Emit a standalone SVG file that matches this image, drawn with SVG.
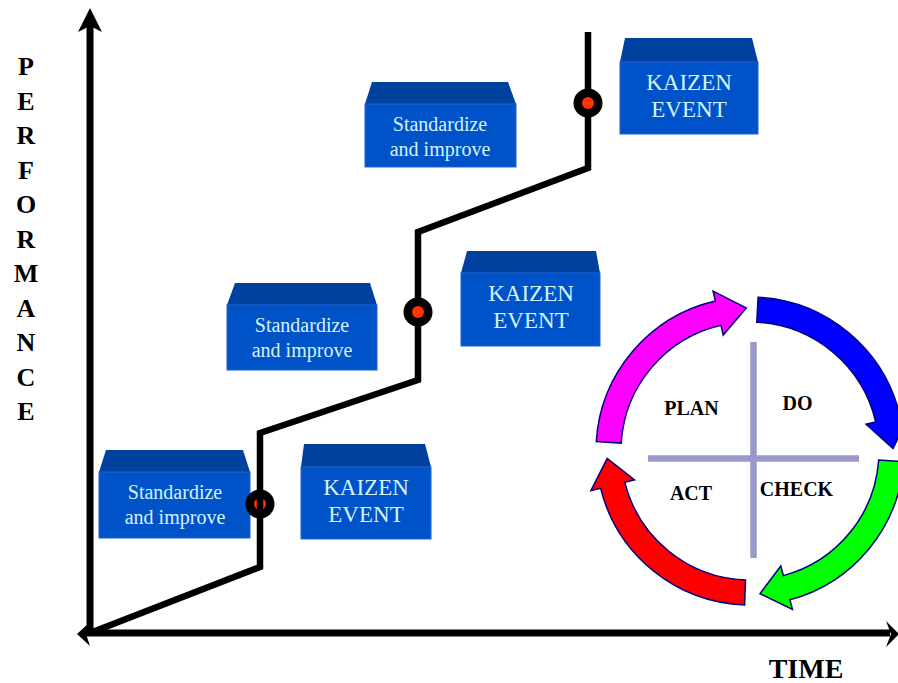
<svg xmlns="http://www.w3.org/2000/svg" width="898" height="683" viewBox="0 0 898 683">
  <style>
    .axis { stroke: #000; stroke-width: 7; fill: none; }
    .step { stroke: #000; stroke-width: 6.5; fill: none; stroke-linejoin: miter; stroke-linecap: butt; }
    .boxtop { fill: #0041a0; }
    .boxfront { fill: #0052c8; stroke: #1f62d0; stroke-width: 1; }
    .std { font-family: "Liberation Serif", "Times New Roman", serif; font-size: 20px; fill: #d4f2ff; text-anchor: middle; }
    .kai { font-family: "Liberation Serif", "Times New Roman", serif; font-size: 23px; fill: #d4f2ff; text-anchor: middle; }
    .lbl { font-family: "Liberation Serif", "Times New Roman", serif; font-weight: bold; fill: #000; text-anchor: middle; }
    .ring { stroke: #000080; stroke-width: 1.5; stroke-linejoin: miter; }
    .cross { stroke: #9999cc; stroke-width: 6.5; }
    .dot-outer { fill: #000; }
    .dot-inner { fill: #ff3300; }
  </style>

  <!-- axis titles -->
  <g id="performance-label" class="lbl" font-size="26">
    <text x="26" y="75">P</text>
    <text x="26" y="109.5">E</text>
    <text x="26" y="144">R</text>
    <text x="26" y="178.5">F</text>
    <text x="26" y="213">O</text>
    <text x="26" y="247.5">R</text>
    <text x="26" y="282">M</text>
    <text x="26" y="316.5">A</text>
    <text x="26" y="351">N</text>
    <text x="26" y="385.5">C</text>
    <text x="26" y="420">E</text>
  </g>
  <g id="time-label">
    <text class="lbl" x="806" y="678" font-size="28">TIME</text>
  </g>

  <!-- axes -->
  <g id="axes">
    <line class="axis" x1="90" y1="633" x2="90" y2="24"/>
    <polygon points="90,8 102,32 90,26 78,32" fill="#000"/>
    <line class="axis" x1="86" y1="633" x2="890" y2="633"/>
    <polygon points="899,634 886,621 891,634 886,647" fill="#000"/>
    <polygon points="77,634 90,622 86,634 90,646" fill="#000"/>
  </g>

  <!-- boxes: Standardize and improve -->
  <g id="std1">
    <polygon class="boxtop" points="106,450 243,450 250,472 99,472"/>
    <rect class="boxfront" x="99" y="472" width="151" height="66"/>
    <text class="std" x="175" y="499">Standardize</text>
    <text class="std" x="175" y="524">and improve</text>
  </g>
  <g id="std2">
    <polygon class="boxtop" points="235,283 370,283 377,305 227,305"/>
    <rect class="boxfront" x="227" y="305" width="150" height="65"/>
    <text class="std" x="302" y="332">Standardize</text>
    <text class="std" x="302" y="357">and improve</text>
  </g>
  <g id="std3">
    <polygon class="boxtop" points="372,82 508,82 516,104 365,104"/>
    <rect class="boxfront" x="365" y="104" width="151" height="63"/>
    <text class="std" x="440" y="131">Standardize</text>
    <text class="std" x="440" y="156">and improve</text>
  </g>

  <!-- boxes: KAIZEN EVENT -->
  <g id="kaizen1">
    <polygon class="boxtop" points="304,444 425,444 431,467 301,467"/>
    <rect class="boxfront" x="301" y="467" width="130" height="72"/>
    <text class="kai" x="366" y="495">KAIZEN</text>
    <text class="kai" x="366" y="522">EVENT</text>
  </g>
  <g id="kaizen2">
    <polygon class="boxtop" points="467,251 596,251 600,273 461,273"/>
    <rect class="boxfront" x="461" y="273" width="139" height="73"/>
    <text class="kai" x="531" y="301">KAIZEN</text>
    <text class="kai" x="531" y="328">EVENT</text>
  </g>
  <g id="kaizen3">
    <polygon class="boxtop" points="625,38 752,38 758,62 620,62"/>
    <rect class="boxfront" x="620" y="62" width="138" height="72"/>
    <text class="kai" x="689" y="90">KAIZEN</text>
    <text class="kai" x="689" y="117">EVENT</text>
  </g>

  <!-- improvement staircase with event markers -->
  <g id="connectors">
    <g id="marker1">
      <circle class="dot-outer" cx="260" cy="504" r="14.5"/>
      <circle class="dot-inner" cx="260" cy="504" r="6"/>
    </g>
    <polyline class="step" points="90,633 260,567 260,433 418,380 418,232 588,168 588,32"/>
    <g id="marker2">
      <circle class="dot-outer" cx="418" cy="312" r="14.5"/>
      <circle class="dot-inner" cx="418" cy="312" r="6"/>
    </g>
    <g id="marker3">
      <circle class="dot-outer" cx="588" cy="103" r="14.5"/>
      <circle class="dot-inner" cx="588" cy="103" r="6"/>
    </g>
  </g>

  <!-- PDCA cycle -->
  <g id="pdca">
    <g id="pdca-cross">
      <line class="cross" x1="753.5" y1="342" x2="753.5" y2="558"/>
      <line class="cross" x1="648" y1="458.5" x2="859" y2="458.5"/>
    </g>
    <path id="arrow-do" class="ring" fill="#0000ff"
          d="M758.1,297.2 A154,154 0 0 1 900.1,416.4 L909.8,414.1 L893.0,448.5 L866.0,424.2 L875.7,422.0 A129,129 0 0 0 756.8,322.2 Z"/>
    <path id="arrow-check" class="ring" fill="#00ff00"
          d="M903.6,461.7 A154,154 0 0 1 789.9,599.8 L792.4,609.4 L760.0,593.7 L780.8,566.0 L783.4,575.6 A129,129 0 0 0 878.7,460.0 Z"/>
    <path id="arrow-act" class="ring" fill="#ff0000"
          d="M744.6,604.9 A154,154 0 0 1 600.6,488.3 L590.9,490.7 L607.2,458.5 L634.5,479.8 L624.8,482.2 A129,129 0 0 0 745.5,579.9 Z"/>
    <path id="arrow-plan" class="ring" fill="#ff00ff"
          d="M596.3,441.6 A154,154 0 0 1 715.4,301.0 L713.1,291.2 L746.3,308.0 L723.2,335.1 L721.0,325.3 A129,129 0 0 0 621.2,443.1 Z"/>
    <g id="pdca-labels" class="lbl" font-size="20">
      <text x="691.5" y="415">PLAN</text>
      <text x="797.5" y="410">DO</text>
      <text x="691" y="500">ACT</text>
      <text x="796.5" y="496">CHECK</text>
    </g>
  </g>
</svg>
